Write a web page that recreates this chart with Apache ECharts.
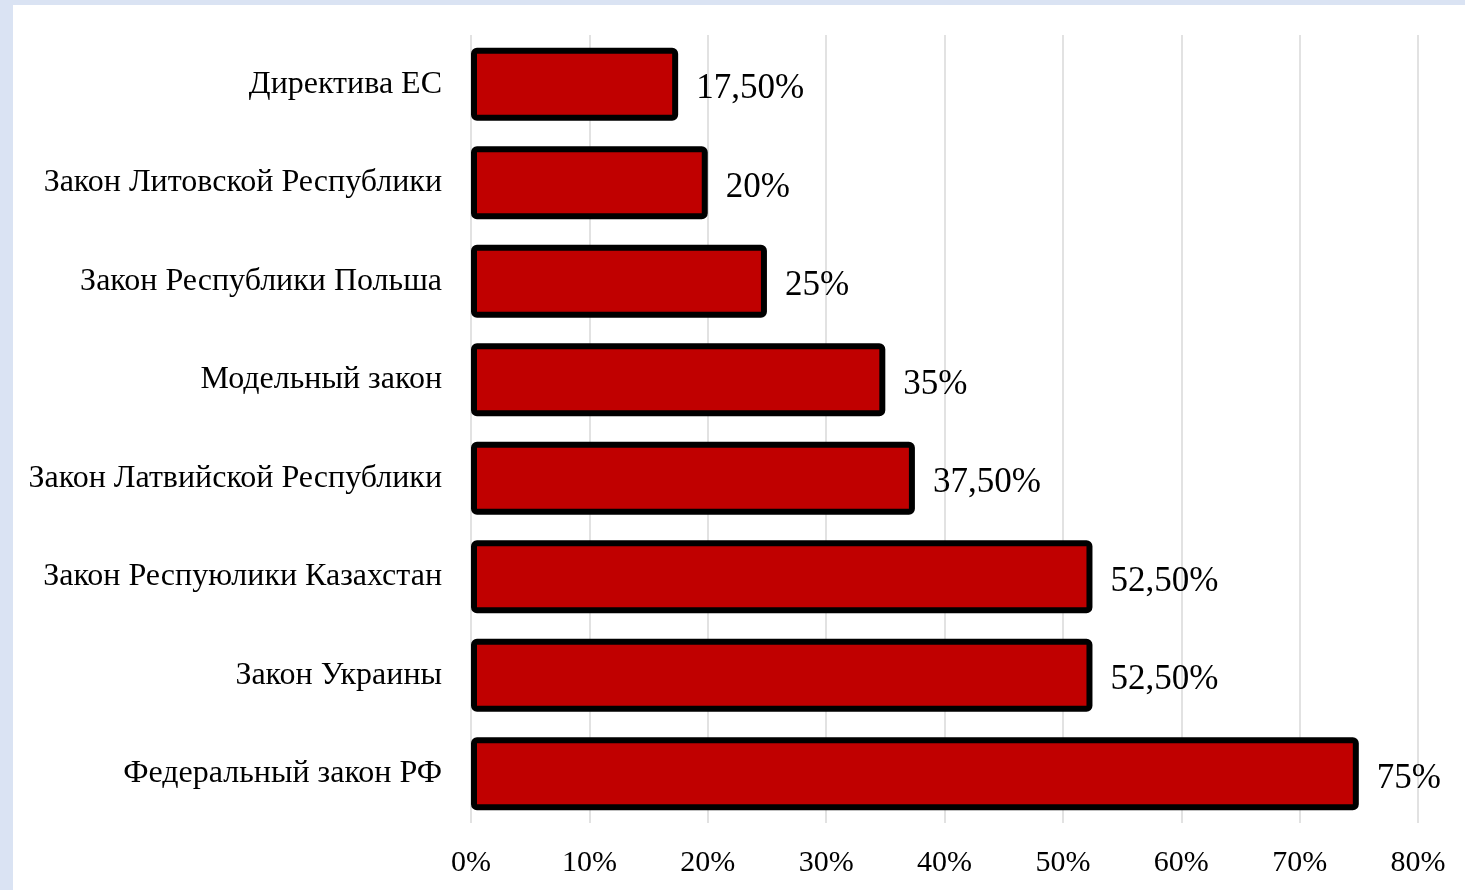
<!DOCTYPE html>
<html><head><meta charset="utf-8">
<script src="https://cdn.jsdelivr.net/npm/echarts@6/dist/echarts.min.js"></script>
<style>
html,body{margin:0;padding:0;background:#dae3f3;width:1465px;height:890px;overflow:hidden}
#c{position:absolute;left:13px;top:5px;width:1452px;height:885px;background:#fff}
</style></head>
<body><div id="c"></div>
<script>
const categories = ["Директива ЕС","Закон Литовской Республики","Закон Республики Польша","Модельный закон","Закон Латвийской Республики","Закон Респуюлики Казахстан","Закон Украины","Федеральный закон РФ"];
const values = [17.5, 20, 25, 35, 37.5, 52.5, 52.5, 75];
const xTicks = [0,10,20,30,40,50,60,70,80];

function fmtVal(v){ return Number.isInteger(v) ? v+'%' : v.toFixed(2).replace('.',',')+'%'; }

const chart = echarts.init(document.getElementById('c'), null, {renderer:'canvas'});
chart.setOption({
  animation:false,
  textStyle:{fontFamily:'Liberation Serif'},
  grid:{left:458, right:47, top:30, bottom:67, containLabel:false},
  xAxis:{type:'value', min:xTicks[0], max:xTicks[xTicks.length-1], interval:10,
    axisLine:{show:false}, axisTick:{show:false},
    axisLabel:{formatter:v=>v+'%', color:'#000', fontSize:30, fontFamily:'Liberation Serif', margin:25},
    splitLine:{show:true, lineStyle:{color:'#d9d9d9', width:1.5}}},
  yAxis:{type:'category', data:categories, inverse:true,
    axisLine:{show:false}, axisTick:{show:false},
    axisLabel:{color:'#000', fontSize:32, fontFamily:'Liberation Serif', margin:29, padding:[8,0,0,0]}},
  series:[{type:'bar', data:values, barCategoryGap:'26%',
    itemStyle:{color:'#c00000', borderColor:'#000', borderWidth:6, borderRadius:3},
    label:{show:true, position:'right', distance:18, offset:[0,5], formatter:p=>fmtVal(p.value), color:'#000', fontSize:35, fontFamily:'Liberation Serif'}}]
});
</script></body></html>
